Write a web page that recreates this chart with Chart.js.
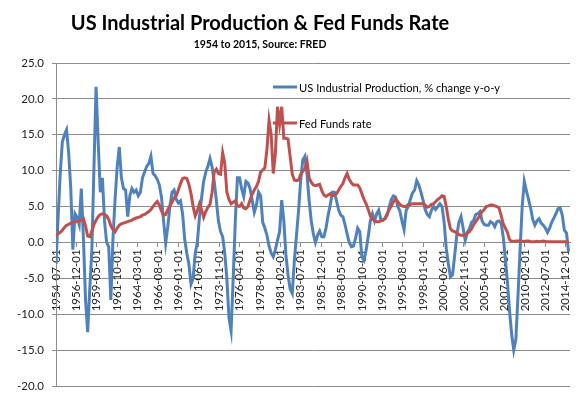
<!DOCTYPE html>
<html>
<head>
<meta charset="utf-8">
<title>US Industrial Production & Fed Funds Rate</title>
<script src="https://cdn.jsdelivr.net/npm/chart.js@4.4.1/dist/chart.umd.min.js"></script>
<style>
  html, body { margin: 0; padding: 0; background: #fff; }
  canvas { display: block; }
</style>
</head>
<body>
<canvas id="chart" width="585" height="395"></canvas>
<script>
// values, one every 3 months starting 1954-07
const STEP = 3;

const tickLabels = [
  '1954-07-01', '1956-12-01', '1959-05-01', '1961-10-01', '1964-03-01',
  '1966-08-01', '1969-01-01', '1971-06-01', '1973-11-01', '1976-04-01',
  '1978-09-01', '1981-02-01', '1983-07-01', '1985-12-01', '1988-05-01',
  '1990-10-01', '1993-03-01', '1995-08-01', '1998-01-01', '2000-06-01',
  '2002-11-01', '2005-04-01', '2007-09-01', '2010-02-01', '2012-07-01',
  '2014-12-01'
];
const TICK_EVERY = 29; // months between category labels

const industrialProduction = [
  -3.0, 3.5, 9.5, 14.0,
  15.0, 15.7, 12.5, 7.5,
  -1.0, 4.0, 3.5, 2.5,
  7.5, 0.5, -8.0, -12.5,
  -6.5, -1.0, 10.5, 21.7,
  14.0, 7.0, 9.0, 3.0,
  0.0, -0.6, -8.0, 0.5,
  6.0, 10.5, 13.3, 9.0,
  7.5, 7.3, 3.6, 6.5,
  7.5, 7.0, 7.3, 6.5,
  7.0, 9.0, 9.8, 10.6,
  11.0, 12.0, 9.6, 9.3,
  8.8, 8.0, 6.3, 3.0,
  -0.1, 2.2, 5.0, 7.0,
  7.3, 6.0, 5.5, 5.8,
  4.0, 0.5, -1.5, -3.0,
  -5.8, -5.0, -1.5, 0.0,
  3.5, 6.2, 8.5, 9.8,
  10.6, 11.7, 10.5, 8.5,
  5.9, 3.0, 1.5, 0.8,
  -1.5, -5.0, -10.5, -12.3,
  -5.0, 3.0, 9.0, 9.0,
  7.5, 6.4, 8.5, 8.3,
  7.5, 5.9, 4.2, 5.2,
  7.0, 6.5, 2.8, 2.0,
  1.0, -0.5, -1.5, -2.0,
  -1.0, 0.3, 1.5, 5.9,
  3.0, -1.8, -4.5, -6.5,
  -7.1, -2.5, 1.0, 4.5,
  8.7, 11.5, 12.0, 9.5,
  5.8, 3.0, 1.2, 0.0,
  1.0, 1.6, 0.8, 0.8,
  2.0, 3.8, 5.2, 7.0,
  7.0, 5.8, 4.5, 3.8,
  3.6, 2.5, 1.2, 0.0,
  -0.6, -0.5, 0.6, 2.0,
  1.5, -2.0, -2.5, -1.1,
  0.8, 3.0, 4.0, 3.0,
  4.0, 4.5, 3.2, 3.1,
  3.3, 3.8, 5.0, 6.0,
  6.5, 6.3, 5.0, 4.4,
  3.0, 1.8, 4.5, 5.0,
  6.0, 6.9, 7.3, 8.6,
  8.0, 7.0, 5.9, 4.6,
  3.9, 3.6, 4.5, 5.0,
  4.6, 5.0, 5.4, 5.0,
  2.8, -0.8, -3.0, -4.8,
  -4.5, -1.8, 1.0, 2.8,
  3.6, 2.0, 0.3, 1.4,
  1.9, 2.8, 3.1, 3.9,
  4.0, 4.3, 3.0, 2.5,
  2.4, 2.4, 2.9, 2.7,
  2.2, 2.9, 3.0, 2.7,
  0.8, -2.2, -5.5, -9.5,
  -12.8, -15.0, -13.5, -7.5,
  -1.0, 5.0, 8.5, 7.2,
  6.0, 4.8, 3.2, 2.4,
  3.0, 3.3, 2.7, 2.4,
  2.0, 1.4, 2.0, 2.8,
  3.4, 4.0, 4.7, 4.8,
  3.8, 1.7, 1.3, -1.3
];

const fedFunds = [
  1.0, 1.2, 1.4, 1.7,
  2.1, 2.4, 2.5, 2.7,
  2.8, 2.9, 2.9, 3.0,
  3.1, 3.3, 2.3, 0.9,
  0.8, 1.6, 2.5, 3.1,
  3.6, 3.9, 4.0, 3.9,
  3.7, 3.2, 2.3, 1.8,
  1.5, 2.0, 2.4, 2.6,
  2.7, 2.8, 2.9, 3.0,
  3.1, 3.3, 3.4, 3.5,
  3.6, 3.8, 3.9, 4.1,
  4.3, 4.6, 5.0, 5.4,
  5.7, 5.2, 4.4, 3.8,
  3.9, 4.6, 5.1, 5.6,
  6.2, 6.5, 7.3, 8.2,
  8.9, 9.0, 8.9, 8.1,
  6.8, 5.0, 3.7, 4.4,
  5.4, 4.6, 3.5, 4.3,
  4.9, 5.3, 7.0, 9.8,
  10.2, 9.6, 9.5, 12.5,
  11.0, 7.0, 6.0, 5.4,
  5.6, 5.8, 5.1, 5.0,
  5.4, 4.8, 4.7, 5.0,
  5.9, 6.7, 7.3, 7.8,
  8.5, 9.8, 10.1, 10.4,
  13.0, 17.0, 15.0, 9.6,
  12.4, 18.9, 16.5, 18.9,
  14.5, 14.5, 14.4, 12.0,
  9.5, 8.7, 8.6, 8.7,
  9.5, 9.9, 10.3, 11.3,
  9.0, 8.4, 8.0, 7.9,
  8.0, 8.1, 7.2, 6.6,
  6.4, 6.6, 6.8, 6.5,
  6.6, 6.8, 7.3, 7.8,
  8.2, 9.0, 9.6, 8.8,
  8.3, 8.0, 8.0, 8.0,
  7.6, 6.8, 6.0, 5.4,
  4.6, 3.7, 3.3, 3.0,
  2.9, 2.9, 3.0, 3.1,
  3.4, 4.0, 4.6, 5.1,
  5.7, 6.1, 5.7, 5.3,
  5.1, 5.0, 5.0, 5.3,
  5.3, 5.4, 5.4, 5.4,
  5.4, 5.4, 5.4, 5.2,
  4.9, 5.0, 5.3, 5.4,
  5.7, 6.0, 6.2, 6.5,
  6.4, 5.0, 3.2, 1.9,
  1.6, 1.5, 1.3, 1.1,
  1.0, 1.0, 1.0, 1.3,
  1.5, 1.9, 2.5, 2.9,
  3.3, 3.8, 4.3, 4.6,
  5.0, 5.1, 5.2, 5.2,
  5.1, 5.0, 4.8, 3.8,
  2.6, 2.0, 1.4, 0.4,
  0.15, 0.15, 0.2, 0.2,
  0.2, 0.18, 0.15, 0.2,
  0.2, 0.1, 0.1, 0.1,
  0.15, 0.1, 0.15, 0.2,
  0.15, 0.1, 0.1, 0.1,
  0.1, 0.1, 0.1, 0.1,
  0.1, 0.1, 0.1, 0.15
];

const TITLE = 'US Industrial Production & Fed Funds Rate';
const SUBTITLE = '1954 to 2015, Source: FRED';
const FONT = 'Lato';
const GRID = '#8c8c8c';
const BLUE = '#4f81bd';
const RED = '#c0504d';

const toPoints = vals => vals.map((v, i) => ({ x: i * STEP, y: v }));

// Excel-style title block, centred over the plot like the original
const titleBlock = {
  id: 'titleBlock',
  afterDraw(chart) {
    const ctx = chart.ctx;
    ctx.save();
    ctx.fillStyle = '#000';
    ctx.textAlign = 'center';
    ctx.textBaseline = 'alphabetic';
    ctx.font = `bold 20px ${FONT}`;
    ctx.fillText(TITLE, 260, 30);
    ctx.font = `bold 10.5px ${FONT}`;
    ctx.fillText(SUBTITLE, 260, 48);
    ctx.restore();
  }
};

// legend sitting inside the plot, top right
const insideLegend = {
  id: 'insideLegend',
  afterDraw(chart) {
    const { ctx, chartArea } = chart;
    const x0 = chartArea.left + 217;
    let y = chartArea.top + 24;
    ctx.save();
    ctx.font = `11.2px ${FONT}`;
    ctx.textBaseline = 'middle';
    chart.data.datasets.forEach(ds => {
      ctx.strokeStyle = ds.borderColor;
      ctx.lineWidth = 3;
      ctx.beginPath();
      ctx.moveTo(x0, y);
      ctx.lineTo(x0 + 24, y);
      ctx.stroke();
      ctx.fillStyle = '#000';
      ctx.fillText(ds.label, x0 + 26, y + 1);
      y += 36;
    });
    ctx.restore();
  }
};

new Chart(document.getElementById('chart'), {
  type: 'line',
  data: {
    datasets: [{
      label: 'US Industrial Production, % change y-o-y',
      data: toPoints(industrialProduction),
      borderColor: BLUE,
      borderWidth: 3,
      pointRadius: 0,
      tension: 0,
      order: 1
    }, {
      label: 'Fed Funds rate',
      data: toPoints(fedFunds),
      borderColor: RED,
      borderWidth: 3,
      pointRadius: 0,
      tension: 0,
      order: 0
    }]
  },
  options: {
    responsive: false,
    animation: false,
    layout: { padding: { top: 63, right: 15, bottom: 9, left: 0 } },
    plugins: {
      legend: { display: false },
      title: { display: false },
      tooltip: { enabled: false }
    },
    scales: {
      x: {
        type: 'linear',
        position: { y: 0 },
        min: 0,
        max: 731,
        afterFit: s => { s.height = 0; },
        afterBuildTicks: s => {
          s.ticks = tickLabels.map((t, i) => ({ value: i * TICK_EVERY }));
        },
        grid: { display: true, drawOnChartArea: false, drawTicks: true, tickLength: 4, color: GRID },
        border: { display: true, color: GRID },
        ticks: {
          autoSkip: false,
          minRotation: 90,
          maxRotation: 90,
          padding: 3,
          color: '#222',
          font: { family: FONT, size: 11.5 },
          callback: (v, i) => tickLabels[i]
        }
      },
      y: {
        min: -20,
        max: 25,
        afterFit: s => {
          s.width = 56;
          s.paddingTop = 0;
          s.paddingBottom = 0;
        },
        grid: { color: GRID, tickLength: 4 },
        border: { color: GRID },
        ticks: {
          stepSize: 5,
          padding: 8,
          color: '#222',
          font: { family: FONT, size: 11.5 },
          callback: v => v.toFixed(1)
        }
      }
    }
  },
  plugins: [titleBlock, insideLegend]
});
</script>
</body>
</html>
